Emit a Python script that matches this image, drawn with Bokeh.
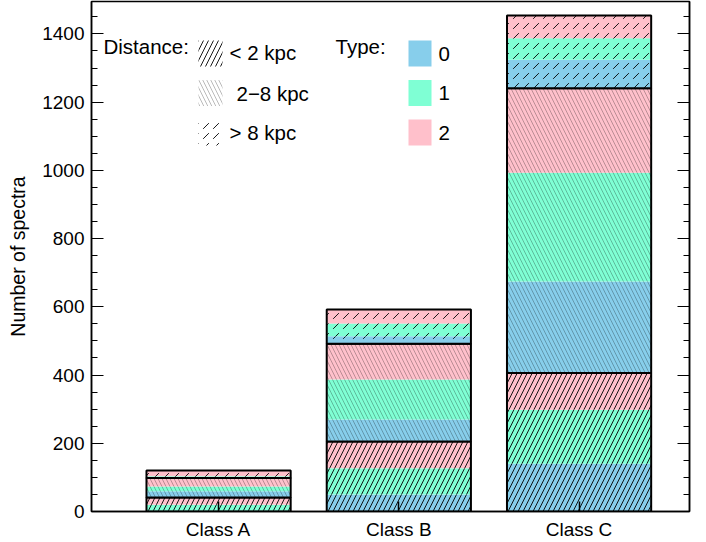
from bokeh.plotting import figure
from bokeh.models import ColumnDataSource, FixedTicker, SingleIntervalTicker, LinearAxis, Range1d
from bokeh.core.properties import value
from bokeh.embed import file_html
from bokeh.resources import INLINE

# ---------------- data ----------------
classes = ["Class A", "Class B", "Class C"]
distance_labels = ["< 2 kpc", "2\u22128 kpc", "> 8 kpc"]
type_labels = ["0", "1", "2"]

# counts per distance group, per type (one value per class)
near_t0 = [2, 50, 140]
near_t1 = [18, 77, 158]
near_t2 = [21, 78, 108]
mid_t0 = [18, 65, 268]
mid_t1 = [14, 117, 319]
mid_t2 = [25, 105, 248]
far_t0 = [2, 22, 83]
far_t1 = [3, 37, 63]
far_t2 = [17, 41, 67]

y_ticks_interval = 200

# ---------------- style ----------------
FONT = "Liberation Sans"
type_colors = ["skyblue", "aquamarine", "pink"]
hatch_styles = [
    dict(hatch_pattern="/", hatch_scale=10, hatch_weight=1.0, hatch_alpha=0.9),
    dict(hatch_pattern="\\", hatch_scale=8, hatch_weight=0.6, hatch_alpha=0.45),
    dict(hatch_pattern=",", hatch_scale=10, hatch_weight=1.0, hatch_alpha=0.9),
]
BAR_W = 0.8

# page-pixel -> data helpers (for legend placement)
FRAME_LEFT_PX = 91.0
X_START = -0.705
PX_PER_X = 180.25
FRAME_TOP_PX = 1.0
FRAME_BOTTOM_PX = 511.0
Y_END = 1495.0
PX_PER_Y = (FRAME_BOTTOM_PX - FRAME_TOP_PX) / Y_END


def sx(px):
    return X_START + (px - FRAME_LEFT_PX) / PX_PER_X


def sy(py):
    return (FRAME_BOTTOM_PX - py) / PX_PER_Y


x_end = sx(689.0)

p = figure(width=698, height=542, output_backend="svg", toolbar_location=None,
           x_range=Range1d(X_START, x_end), y_range=Range1d(0, Y_END),
           min_border_left=91, min_border_right=9, min_border_top=1, min_border_bottom=31)
p.title.visible = False
p.background_fill_color = "white"
p.border_fill_color = "white"
p.outline_line_color = "black"
p.outline_line_width = 1.5
p.xgrid.visible = False
p.ygrid.visible = False

xs = list(range(len(classes)))
groups = [[near_t0, near_t1, near_t2], [mid_t0, mid_t1, mid_t2], [far_t0, far_t1, far_t2]]

base = [0] * len(classes)
for g, parts in enumerate(groups):
    gbottom = list(base)
    for t, vals in enumerate(parts):
        top = [b + v for b, v in zip(base, vals)]
        src = ColumnDataSource(dict(left=[x - BAR_W / 2 for x in xs], right=[x + BAR_W / 2 for x in xs],
                                    bottom=list(base), top=top))
        p.quad(left="left", right="right", bottom="bottom", top="top", source=src,
               fill_color=type_colors[t], line_color=None, hatch_color="black", **hatch_styles[g])
        base = top
    osrc = ColumnDataSource(dict(left=[x - BAR_W / 2 for x in xs], right=[x + BAR_W / 2 for x in xs],
                                 bottom=gbottom, top=list(base)))
    p.quad(left="left", right="right", bottom="bottom", top="top", source=osrc,
           fill_color=None, line_color="black", line_width=2)

# ---------------- axes ----------------
p.xaxis.ticker = FixedTicker(ticks=xs)
p.xaxis.major_label_overrides = {i: c for i, c in enumerate(classes)}
p.xaxis.major_tick_in = 10
p.xaxis.major_tick_out = 0
p.xaxis.minor_tick_line_color = None
p.xaxis.major_tick_line_color = "black"
p.xaxis.major_tick_line_width = 1.5
p.xaxis.axis_line_width = 1.5
p.xaxis.axis_line_color = "black"
p.xaxis.major_label_text_font = FONT
p.xaxis.major_label_text_font_size = "19px"
p.xaxis.major_label_text_color = "black"
p.xaxis.major_label_standoff = 7

yt = SingleIntervalTicker(interval=y_ticks_interval, num_minor_ticks=4)
p.yaxis.ticker = yt
p.yaxis.major_tick_in = 12
p.yaxis.major_tick_out = 0
p.yaxis.minor_tick_in = 6
p.yaxis.minor_tick_out = 0
p.yaxis.major_tick_line_color = "black"
p.yaxis.minor_tick_line_color = "black"
p.yaxis.axis_line_width = 1.5
p.yaxis.axis_line_color = "black"
p.yaxis.major_label_text_font = FONT
p.yaxis.major_label_text_font_size = "19px"
p.yaxis.major_label_text_color = "black"
p.yaxis.major_label_standoff = 7
p.yaxis.axis_label = "Number of spectra"
p.yaxis.axis_label_text_font = FONT
p.yaxis.axis_label_text_font_size = "19.5px"
p.yaxis.axis_label_text_font_style = "normal"
p.yaxis.axis_label_text_color = "black"
p.yaxis.axis_label_standoff = 10

ry = LinearAxis(ticker=SingleIntervalTicker(interval=y_ticks_interval, num_minor_ticks=4),
                major_tick_in=12, major_tick_out=0, minor_tick_in=6, minor_tick_out=0,
                major_label_text_font_size="0px", major_label_standoff=0,
                axis_line_color="black", axis_line_width=1.5,
                major_tick_line_color="black", minor_tick_line_color="black")
p.add_layout(ry, "right")

# ---------------- legend (drawn by hand) ----------------
sw_left, sw_right = 198, 222
col_left, col_right = 408, 431
rows_top = [40, 79.5, 119]
row_h = 26
for i in range(3):
    t, b = rows_top[i], rows_top[i] + row_h
    p.quad(left=[sx(sw_left)], right=[sx(sw_right)], top=[sy(t)], bottom=[sy(b)],
           fill_color="white", line_color=None, hatch_color="black", **hatch_styles[i])
    p.quad(left=[sx(col_left)], right=[sx(col_right)], top=[sy(t)], bottom=[sy(b)],
           fill_color=type_colors[i], line_color=None)

txt = dict(text_font=value(FONT), text_font_size="20.5px", text_color="black",
           text_baseline="middle", text_align="left")
p.text(x=[sx(103)], y=[sy(46)], text=["Distance:"], **txt)
p.text(x=[sx(335)], y=[sy(46)], text=["Type:"], **txt)
dist_x = [229, 236, 229]
dist_y = [52, 92.5, 132]
p.text(x=[sx(v) for v in dist_x], y=[sy(v) for v in dist_y], text=distance_labels, **txt)
type_y = [53, 92.5, 132]
p.text(x=[sx(438)] * 3, y=[sy(v) for v in type_y], text=type_labels, **txt)

open("out.html", "w").write(file_html(p, INLINE))
